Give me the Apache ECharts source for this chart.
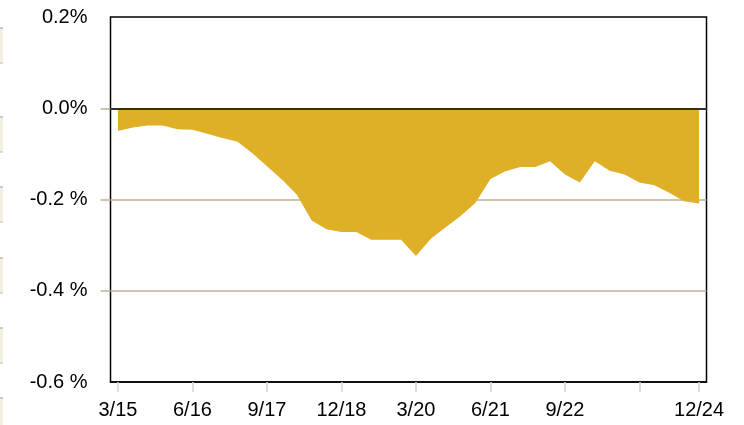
<!DOCTYPE html>
<html>
<head>
<meta charset="utf-8">
<script src="https://cdn.jsdelivr.net/npm/echarts@6/dist/echarts.min.js"></script>
<style>
html,body{margin:0;padding:0;background:#fff;}
#chart{width:744px;height:425px;}
</style>
</head>
<body>
<div id="chart"></div>
<script>
// Quarterly categories, 3/15 .. 12/24
const categories = [
  "3/15","6/15","9/15","12/15",
  "3/16","6/16","9/16","12/16",
  "3/17","6/17","9/17","12/17",
  "3/18","6/18","9/18","12/18",
  "3/19","6/19","9/19","12/19",
  "3/20","6/20","9/20","12/20",
  "3/21","6/21","9/21","12/21",
  "3/22","6/22","9/22","12/22",
  "3/23","6/23","9/23","12/23",
  "3/24","6/24","9/24","12/24"
];
// Values in percent
const values = [
  -0.050,-0.042,-0.038,-0.038,
  -0.046,-0.047,-0.056,-0.065,
  -0.073,-0.098,-0.127,-0.156,
  -0.189,-0.246,-0.265,-0.271,
  -0.271,-0.288,-0.288,-0.288,
  -0.324,-0.286,-0.261,-0.236,
  -0.207,-0.155,-0.138,-0.129,
  -0.129,-0.116,-0.145,-0.163,
  -0.116,-0.137,-0.145,-0.163,
  -0.169,-0.185,-0.204,-0.209
];
// Labelled x positions (indices into categories)
const xLabelIdx = [0,5,10,15,20,25,30,39];
const xTickIdx = [0,5,10,15,20,25,30,35,39];
// Y ticks
const yTicks = [0.2, 0.0, -0.2, -0.4, -0.6];
const yTickLabels = ["0.2%","0.0%","-0.2 %","-0.4 %","-0.6 %"];
const yInnerTicks = [0.0, -0.2, -0.4];

const gold = '#dfb027';
const tan = '#bcb192';

const chart = echarts.init(document.getElementById('chart'), null, {renderer:'canvas'});

const deco = [];
[[28,63],[117,152],[187,222],[258,293],[328,363],[398,440]].forEach(function(b){
  deco.push({type:'rect', shape:{x:0,y:b[0],width:3,height:b[1]-b[0]}, style:{fill:'#f4efdf'}, silent:true});
  deco.push({type:'line', shape:{x1:0,y1:b[0],x2:3,y2:b[0]}, style:{stroke:'#999',lineWidth:1}, silent:true});
  deco.push({type:'line', shape:{x1:0,y1:b[1],x2:3,y2:b[1]}, style:{stroke:'#bbb',lineWidth:1}, silent:true});
});

chart.setOption({
  animation:false,
  backgroundColor:'#fff',
  graphic: deco,
  grid:{left:110.5, right:37.5, top:17, bottom:43, show:true, borderColor:'#000', borderWidth:1.5, backgroundColor:'transparent'},
  xAxis:{
    type:'category',
    data:categories,
    boundaryGap:true,
    axisLine:{show:true, onZero:false, lineStyle:{color:'#000', width:1.5}},
    axisTick:{show:true, inside:false, alignWithLabel:true, length:10, lineStyle:{color:'#d4d4d4', width:1.5},
      interval:function(i){ return xTickIdx.indexOf(i) >= 0; }},
    axisLabel:{show:true, margin:18, color:'#000', fontSize:20, fontFamily:'Liberation Sans, Arial, sans-serif',
      interval:function(i){ return xLabelIdx.indexOf(i) >= 0; }},
    splitLine:{show:false}
  },
  yAxis:{
    type:'value',
    min:-0.6, max:0.2, interval:0.2,
    axisLine:{show:false},
    axisTick:{show:true, length:10, lineStyle:{color:tan, width:1.5}, customValues:yInnerTicks},
    axisLabel:{show:true, margin:23, color:'#000', fontSize:20, fontFamily:'Liberation Sans, Arial, sans-serif',
      formatter:function(v){
        for (let k=0;k<yTicks.length;k++){ if (Math.abs(yTicks[k]-v)<1e-9) return yTickLabels[k]; }
        return '';
      }},
    splitLine:{show:true, lineStyle:{color:tan, width:1.5}}
  },
  series:[{
    type:'line',
    data:values,
    symbol:'none',
    lineStyle:{width:0, color:gold},
    itemStyle:{color:gold},
    areaStyle:{color:gold, opacity:1},
    markLine:{
      silent:true,
      symbol:['none','none'],
      label:{show:false},
      lineStyle:{color:'#000', width:1.5, type:'solid'},
      data:[{yAxis:0}]
    },
    z:3
  }]
});
</script>
</body>
</html>
